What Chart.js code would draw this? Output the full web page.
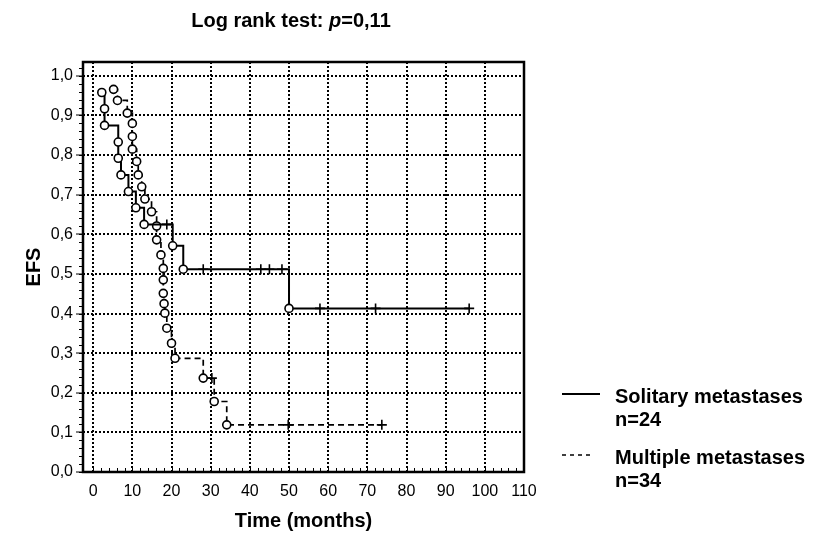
<!DOCTYPE html>
<html>
<head>
<meta charset="utf-8">
<script src="https://cdn.jsdelivr.net/npm/chart.js@4.4.0/dist/chart.umd.min.js"></script>
<style>
  html, body { margin: 0; padding: 0; background: #fff; }
</style>
</head>
<body>
<canvas id="myChart" width="816" height="533"></canvas>
<script>
// Solitary metastases, n=24 (solid)
const soloTime = [2.2, 2.9, 2.9, 6.4, 6.4, 7.1, 9.0, 10.9, 13.0, 18.8, 20.3, 23.0, 28.1, 42.8, 45.0, 48.2, 50.0, 57.9, 72.1, 96.0];
const soloEFS  = [0.958, 0.917, 0.875, 0.833, 0.792, 0.75, 0.708, 0.667, 0.625, 0.625, 0.571, 0.512, 0.512, 0.512, 0.512, 0.512, 0.413, 0.413, 0.413, 0.413];
const soloCens = [0, 0, 0, 0, 0, 0, 0, 0, 0, 1, 0, 0, 1, 1, 1, 1, 0, 1, 1, 1];

// Multiple metastases, n=34 (dashed)
const multiTime = [5.2, 6.2, 8.7, 10.0, 10.0, 10.0, 11.1, 11.5, 12.4, 13.2, 14.9, 16.2, 16.2, 17.3, 17.9, 17.9, 17.9, 18.1, 18.3, 18.8, 20.0, 20.9, 28.1, 30.3, 30.9, 34.1, 49.8, 73.7];
const multiEFS  = [0.966, 0.938, 0.906, 0.88, 0.847, 0.815, 0.784, 0.75, 0.72, 0.689, 0.657, 0.621, 0.586, 0.548, 0.514, 0.485, 0.451, 0.425, 0.401, 0.363, 0.325, 0.287, 0.237, 0.237, 0.178, 0.119, 0.119, 0.119];
const multiCens = [0, 0, 0, 0, 0, 0, 0, 0, 0, 0, 0, 0, 0, 0, 0, 0, 0, 0, 0, 0, 0, 0, 0, 1, 0, 0, 1, 1];

const xTicks = [0, 10, 20, 30, 40, 50, 60, 70, 80, 90, 100, 110];
const yTicks = [0, 0.1, 0.2, 0.3, 0.4, 0.5, 0.6, 0.7, 0.8, 0.9, 1.0];
const seriesNames = ['Solitary metastases', 'Multiple metastases'];
const seriesN = ['n=24', 'n=34'];

const FONT = "'Liberation Sans', Arial, sans-serif";

function pts(t, s) {
  return t.map((v, i) => ({ x: v, y: s[i] }));
}

function makeSet(t, s, c, name, dash) {
  return {
    label: name,
    data: pts(t, s),
    stepped: 'before',
    borderColor: '#000',
    borderWidth: dash ? 1.7 : 2,
    borderDash: dash || [],
    pointStyle: c.map(v => v ? 'cross' : 'circle'),
    pointRadius: c.map(v => v ? 5 : 4),
    pointBorderWidth: 1.6,
    pointBorderColor: '#000',
    pointBackgroundColor: '#fff',
    fill: false
  };
}

const framePlugin = {
  id: 'frame',
  afterDraw(chart) {
    const c = chart.ctx, a = chart.chartArea;
    const xs = chart.scales.x, ys = chart.scales.y;
    c.save();
    c.strokeStyle = '#000';
    c.lineWidth = 1;
    // minor ticks, left axis (outside)
    for (let k = 0; k <= 51; k++) {
      const py = Math.round(ys.getPixelForValue(k * 0.02)) + 0.5;
      c.beginPath();
      c.moveTo(a.left - 4, py);
      c.lineTo(a.left, py);
      c.stroke();
    }
    // minor ticks, bottom axis (inside)
    for (let k = 0; k <= 55; k++) {
      const px = Math.round(xs.getPixelForValue(k * 2)) + 0.5;
      c.beginPath();
      c.moveTo(px, a.bottom);
      c.lineTo(px, a.bottom - (k % 5 === 0 ? 6 : 4));
      c.stroke();
    }
    c.lineWidth = 2.5;
    c.strokeRect(a.left, a.top, a.right - a.left, a.bottom - a.top);

    // title with italic p
    const parts = [['Log rank test: ', 'bold'], ['p', 'italic bold'], ['=0,11', 'bold']];
    let w = 0;
    parts.forEach(p => { c.font = p[1] + ' 20px ' + FONT; w += c.measureText(p[0]).width; });
    let x = 291 - w / 2;
    c.fillStyle = '#000';
    c.textBaseline = 'middle';
    parts.forEach(p => {
      c.font = p[1] + ' 20px ' + FONT;
      c.fillText(p[0], x, 21);
      x += c.measureText(p[0]).width;
    });

    // legend
    const rows = [394, 455];
    chart.data.datasets.forEach((ds, i) => {
      const y = rows[i];
      c.beginPath();
      c.lineWidth = ds.borderDash.length ? 1.5 : 2;
      c.setLineDash(ds.borderDash.length ? [4, 4] : []);
      c.moveTo(562, y);
      c.lineTo(i === 0 ? 600 : 592, y);
      c.stroke();
      c.setLineDash([]);
      c.font = 'bold 20px ' + FONT;
      c.textAlign = 'left';
      c.fillText(seriesNames[i], 615, y + 3);
      c.fillText(seriesN[i], 615, y + 26);
    });
    c.restore();
  }
};

new Chart(document.getElementById('myChart'), {
  type: 'line',
  data: {
    datasets: [
      makeSet(soloTime, soloEFS, soloCens, seriesNames[0], null),
      makeSet(multiTime, multiEFS, multiCens, seriesNames[1], [6, 4])
    ]
  },
  options: {
    responsive: false,
    animation: false,
    layout: { padding: { top: 62, right: 292, left: 0, bottom: 0 } },
    plugins: {
      legend: { display: false },
      title: { display: false },
      tooltip: { enabled: false }
    },
    scales: {
      x: {
        type: 'linear',
        min: -2.6,
        max: 110,
        afterBuildTicks: s => { s.ticks = xTicks.map(v => ({ value: v })); },
        afterFit: s => { s.height = 61; },
        border: { display: false, dash: [2, 2] },
        grid: {
          color: ctx => ctx.tick && ctx.tick.value < 110 ? '#000' : 'rgba(0,0,0,0)',
          lineWidth: 2,
          drawTicks: false
        },
        ticks: {
          color: '#000',
          font: { family: FONT, size: 16 },
          padding: 10,
          maxRotation: 0,
          autoSkip: false,
          callback: v => String(v)
        },
        title: {
          display: true,
          text: 'Time (months)',
          color: '#000',
          font: { family: FONT, size: 20, weight: 'bold' },
          padding: { top: 0, bottom: 0 }
        }
      },
      y: {
        min: 0,
        max: 1.035,
        afterBuildTicks: s => { s.ticks = yTicks.map(v => ({ value: v })); },
        afterFit: s => { s.width = 83; },
        border: { display: false, dash: [2, 2] },
        grid: {
          color: ctx => ctx.tick && ctx.tick.value > 0 ? '#000' : 'rgba(0,0,0,0)',
          tickColor: '#000',
          tickBorderDash: [],
          tickWidth: 1,
          lineWidth: 2,
          tickLength: 7
        },
        ticks: {
          color: '#000',
          font: { family: FONT, size: 16 },
          padding: 3,
          callback: v => v.toFixed(1).replace('.', ',')
        },
        title: {
          display: true,
          text: 'EFS',
          color: '#000',
          font: { family: FONT, size: 20, weight: 'bold' },
          padding: { top: 22, bottom: 0 }
        }
      }
    }
  },
  plugins: [framePlugin]
});
</script>
</body>
</html>
